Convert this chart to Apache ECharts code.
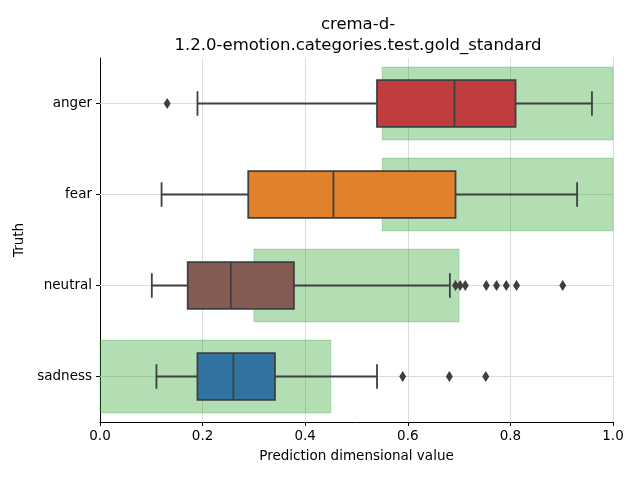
<!DOCTYPE html>
<html><head><meta charset="utf-8">
<script src="https://cdn.jsdelivr.net/npm/echarts@6/dist/echarts.min.js"></script>
<style>html,body{margin:0;padding:0;background:#fff}#c{width:640px;height:480px}</style>
</head><body><div id="c"></div>
<script>
const categories = ['anger', 'fear', 'neutral', 'sadness'];
// [q1, median, q3, whiskerLow, whiskerHigh]
const boxStats = [
  [0.540, 0.691, 0.810, 0.190, 0.959],
  [0.289, 0.455, 0.693, 0.120, 0.930],
  [0.171, 0.255, 0.378, 0.101, 0.682],
  [0.190, 0.260, 0.341, 0.110, 0.540]
];
const boxColors = ['#c03d3e', '#e1812c', '#845b53', '#3274a1'];
const outliers = {
  anger: [0.131],
  fear: [],
  neutral: [0.693, 0.702, 0.712, 0.753, 0.773, 0.792, 0.812, 0.902],
  sadness: [0.590, 0.681, 0.752]
};
// gold standard ranges [start, end]
const goldRanges = [
  [0.55, 1.0],
  [0.55, 1.0],
  [0.30, 0.70],
  [0.00, 0.45]
];
const xTicks = [0, 0.2, 0.4, 0.6, 0.8, 1.0];

const font = 'DejaVu Sans';
const chart = echarts.init(document.getElementById('c'), null, {renderer: 'canvas'});

const boxData = boxStats.map((s, i) => [...s, i]);
const goldData = goldRanges.map((r, i) => [r[0], r[1], i]);
const outData = [];
categories.forEach((c, i) => outliers[c].forEach(v => outData.push([v, i])));

chart.setOption({
  animation: false,
  title: {
    text: 'crema-d-\n1.2.0-emotion.categories.test.gold_standard',
    left: 353, top: 9, textAlign: 'center',
    textStyle: {fontFamily: font, fontSize: 16.5, fontWeight: 'normal', color: '#000', lineHeight: 21}
  },
  grid: {left: 100, right: 27, top: 58, bottom: 58},
  xAxis: {
    type: 'value', min: 0, max: 1, interval: 0.2,
    name: 'Prediction dimensional value', nameLocation: 'middle', nameGap: 27,
    nameTextStyle: {fontFamily: font, fontSize: 13.5, color: '#000'},
    axisLine: {show: true, lineStyle: {color: '#000', width: 1}},
    axisTick: {show: true, length: 4, lineStyle: {color: '#000'}},
    axisLabel: {fontFamily: font, fontSize: 13.5, color: '#000', margin: 7, formatter: v => v.toFixed(1)},
    splitLine: {show: true, lineStyle: {color: '#dcdcdc', width: 1}}
  },
  yAxis: {
    type: 'category', data: categories, inverse: true,
    name: 'Truth', nameLocation: 'middle', nameGap: 73, nameRotate: 90,
    nameTextStyle: {fontFamily: font, fontSize: 13.5, color: '#000'},
    axisLine: {show: true, lineStyle: {color: '#000', width: 1}},
    axisTick: {show: true, alignWithLabel: true, length: 4, lineStyle: {color: '#000'}},
    axisLabel: {fontFamily: font, fontSize: 13.5, color: '#000', margin: 8},
    splitLine: {show: false}
  },
  series: [
    {
      type: 'custom', z: 1, silent: true,
      data: categories.map((c, i) => [0, i]),
      encode: {x: 0, y: 1},
      renderItem: (params, api) => {
        const cs = params.coordSys;
        const p = api.coord([0, api.value(1)]);
        return {type: 'line', shape: {x1: cs.x, y1: p[1], x2: cs.x + cs.width, y2: p[1]},
          style: {stroke: '#dcdcdc', lineWidth: 1}};
      }
    },
    {
      type: 'custom', z: 2, silent: true,
      data: goldData,
      encode: {x: [0, 1], y: 2},
      renderItem: (params, api) => {
        const a = api.coord([api.value(0), api.value(2)]);
        const b = api.coord([api.value(1), api.value(2)]);
        const h = api.size([0, 1])[1] * 0.8;
        return {type: 'rect', shape: {x: a[0], y: a[1] - h / 2, width: b[0] - a[0], height: h},
          style: {fill: 'rgba(44,160,44,0.36)', stroke: 'rgba(44,160,44,0.25)', lineWidth: 1}};
      }
    },
    {
      type: 'custom', z: 3, silent: true,
      data: boxData,
      encode: {x: [0, 1, 2, 3, 4], y: 5},
      renderItem: (params, api) => {
        const cat = api.value(5);
        const q1 = api.coord([api.value(0), cat]);
        const md = api.coord([api.value(1), cat]);
        const q3 = api.coord([api.value(2), cat]);
        const lo = api.coord([api.value(3), cat]);
        const hi = api.coord([api.value(4), cat]);
        const band = api.size([0, 1])[1];
        const bh = band * 0.515, ch = band * 0.27;
        const y = q1[1];
        const ln = {stroke: '#3f3f3f', lineWidth: 1.8};
        return {type: 'group', children: [
          {type: 'line', shape: {x1: lo[0], y1: y, x2: q1[0], y2: y}, style: ln},
          {type: 'line', shape: {x1: q3[0], y1: y, x2: hi[0], y2: y}, style: ln},
          {type: 'line', shape: {x1: lo[0], y1: y - ch / 2, x2: lo[0], y2: y + ch / 2}, style: ln},
          {type: 'line', shape: {x1: hi[0], y1: y - ch / 2, x2: hi[0], y2: y + ch / 2}, style: ln},
          {type: 'rect', shape: {x: q1[0], y: y - bh / 2, width: q3[0] - q1[0], height: bh},
            style: {fill: boxColors[params.dataIndex], stroke: '#3f3f3f', lineWidth: 1.8}},
          {type: 'line', shape: {x1: md[0], y1: y - bh / 2, x2: md[0], y2: y + bh / 2}, style: ln}
        ]};
      }
    },
    {
      type: 'scatter', z: 4, silent: true,
      data: outData,
      symbol: 'diamond', symbolSize: [7, 11],
      itemStyle: {color: '#3f3f3f', opacity: 1}
    }
  ]
});
</script></body></html>
